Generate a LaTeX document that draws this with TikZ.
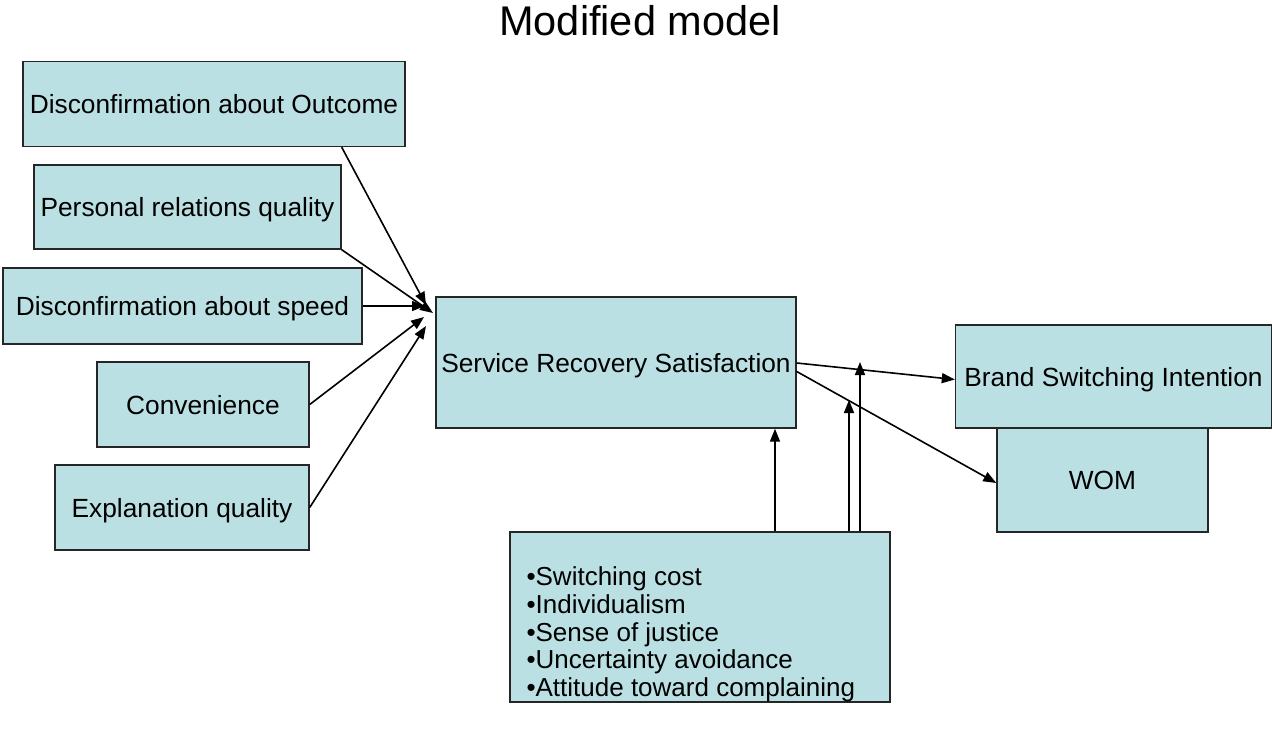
\documentclass[tikz,border=0pt]{standalone}
\usepackage{fontspec}
\setmainfont{Liberation Sans}
\usetikzlibrary{arrows.meta}
\definecolor{boxfill}{RGB}{187,224,227}
\tikzset{
  box/.style={draw=black!85, line width=1.4pt, fill=boxfill, inner sep=0pt,
    font=\fontsize{26.3}{31}\selectfont, text height=19.5pt, text depth=0pt},
  arr/.style={line width=1.6pt, -{Triangle[length=13pt,width=10pt]}}
}
\begin{document}
\begin{tikzpicture}[x=1pt,y=-1pt]
\useasboundingbox (0,0) rectangle (1272,731);
\node[font=\fontsize{41.5}{46}\selectfont] (title) at (640,21) {Modified model};
\node[box, minimum width=382pt, minimum height=85pt] (b1) at (214,104) {Disconfirmation about Outcome};
\node[box, minimum width=307pt, minimum height=84pt] (b2) at (187.5,207) {Personal relations quality};
\node[box, minimum width=359pt, minimum height=76pt] (b3) at (182.5,306) {Disconfirmation about speed};
\node[box, minimum width=212pt, minimum height=85pt] (b4) at (203,404.5) {Convenience};
\node[box, minimum width=254pt, minimum height=85pt] (b5) at (182,507.5) {Explanation quality};
\node[box, minimum width=360pt, minimum height=131pt] (srs) at (616,362.5) {Service Recovery Satisfaction};
\node[box, minimum width=211pt, minimum height=104pt] (wom) at (1102.5,480) {WOM};
\node[box, minimum width=316pt, minimum height=103pt] (bsi) at (1113.5,376.5) {Brand Switching Intention};
\node[box, minimum width=380pt, minimum height=170pt] (mod) at (700,617) {};
\node[font=\fontsize{26}{27.7}\selectfont, align=left, anchor=west] (modtxt) at (523,634.5)
  {•Switching cost\\•Individualism\\•Sense of justice\\•Uncertainty avoidance\\•Attitude toward complaining};
% converging target points
\coordinate (t1) at (426,305);
\coordinate (t2) at (433,313);
\coordinate (t3) at (425,306);
\coordinate (t4) at (424,317);
\coordinate (t5) at (426,326);
\draw[arr] ([xshift=-64pt]b1.south east) -- (t1);
\draw[arr] (b2.south east) -- (t2);
\draw[arr] (b3.east) -- (t3);
\draw[arr] (b4.east) -- (t4);
\draw[arr] (b5.east) -- (t5);
% outputs
\draw[arr] ([yshift=-0.5pt]srs.east) -- ([yshift=-3pt]bsi.west);
\draw[arr] ([yshift=-9pt]srs.east) -- ([yshift=-3pt]wom.west);
% moderators
\coordinate (m2) at (849,400);
\coordinate (m3) at (860,362);
\draw[arr] (mod.north -| 775,0) -- (srs.south -| 775,0);
\draw[arr] (mod.north -| m2) -- (m2);
\draw[arr] (mod.north -| m3) -- (m3);
\end{tikzpicture}
\end{document}
